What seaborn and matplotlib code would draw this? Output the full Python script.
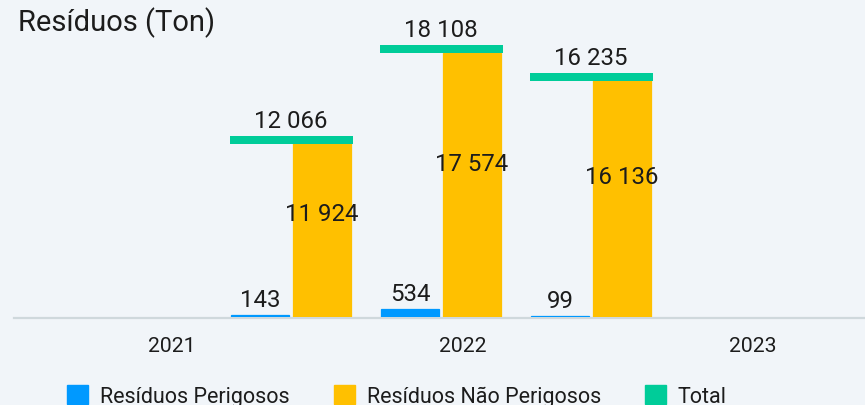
import numpy as np
import pandas as pd
import matplotlib
matplotlib.use("Agg")
import matplotlib.pyplot as plt
from matplotlib.patches import Patch
import seaborn as sns

# ---- data ----
years = ["2021", "2022", "2023"]
perigosos = [143, 534, 99]
nao_perigosos = [11924, 17574, 16136]
total = [12066, 18108, 16235]
series_names = ["Resíduos Perigosos", "Resíduos Não Perigosos"]
total_name = "Total"
title = "Resíduos (Ton)"

# ---- style ----
bg = "#F1F5F9"
c_blue = "#0099FF"
c_yellow = "#FFC000"
c_green = "#00CC99"
txt = "#1C1C1C"
palette = {series_names[0]: c_blue, series_names[1]: c_yellow}

def fmt(v):
    return f"{v:,}".replace(",", " ")

sns.set_theme(style="white")
plt.rcParams["font.family"] = ["Roboto", "DejaVu Sans"]

df = pd.DataFrame({
    "Ano": years * 2,
    "Série": [series_names[0]] * 3 + [series_names[1]] * 3,
    "Valor": perigosos + nao_perigosos,
})

W, H = 865, 406
fig = plt.figure(figsize=(W / 100, H / 100), dpi=100)
fig.patch.set_facecolor(bg)

ax = fig.add_axes([14 / W, 88 / H, 851 / W, 296 / H])
ax.set_facecolor("none")
sns.barplot(data=df, x="Ano", y="Valor", hue="Série", palette=palette,
            width=0.82, gap=0.06, saturation=1, legend=False, ax=ax, zorder=2,
            linewidth=0)
# slight outline in the bar's own colour so the tiny bars stay visible
for cont in ax.containers:
    for b in cont:
        b.set_edgecolor(b.get_facecolor())
        b.set_linewidth(0.9)

px_per_unit = 0.01502
ax.set_ylim(0, 296 / px_per_unit)
ax.set_xlim(-(291 - 14) / 150, 2 + (865 - 591) / 150)

# total markers (thick horizontal bars with top at the value)
xpos = np.arange(len(years))
thick = 8 / px_per_unit
ax.bar(xpos, [-thick] * len(total), bottom=total, width=0.82, color=c_green,
       linewidth=0, zorder=3, clip_on=False)

fs_val = 17.3
# labels
for bar, v in zip(ax.containers[0], perigosos):
    cx = bar.get_x() + bar.get_width() / 2
    ax.annotate(fmt(v), (cx, v), xytext=(0, 9), textcoords="offset pixels",
                ha="center", va="baseline", fontsize=fs_val, color=txt,
                annotation_clip=False)
for bar, v in zip(ax.containers[1], nao_perigosos):
    cx = bar.get_x() + bar.get_width() / 2
    ax.annotate(fmt(v), (cx, v * 0.58), ha="center", va="center",
                fontsize=fs_val, color=txt, annotation_clip=False, zorder=5)
for x, v in zip(xpos, total):
    ax.annotate(fmt(v), (x, v), xytext=(0, 9), textcoords="offset pixels",
                ha="center", va="baseline", fontsize=fs_val, color=txt,
                annotation_clip=False, zorder=5)

ax.set_xticks([])
ax.set_yticks([])
ax.set_xlabel("")
ax.set_ylabel("")
for s in ["top", "left", "right"]:
    ax.spines[s].set_visible(False)
ax.spines["bottom"].set_color("#CFD8DC")
ax.spines["bottom"].set_linewidth(1.6)
ax.spines["bottom"].set_zorder(1)
ax.spines["bottom"].set_position(("outward", 1))

# category tick labels
ax2 = ax.twiny()
ax2.set_facecolor("none")
ax2.xaxis.set_ticks_position("bottom")
ax2.xaxis.set_label_position("bottom")
ax2.set_xlim(-(172 - 14) / 290.5, 2 + (865 - 753) / 290.5)
ax2.set_xticks(range(len(years)))
ax2.set_xticklabels(years, fontsize=15.2, color=txt)
ax2.tick_params(axis="x", length=0, pad=14)
for s in ax2.spines.values():
    s.set_visible(False)

# title
fig.text(18 / W, 1 - 31 / H, title, fontsize=21, ha="left", va="baseline", color=txt)

# legend (cut by the bottom edge, as in the reference)
handles = [Patch(color=c_blue, label=series_names[0]),
           Patch(color=c_yellow, label=series_names[1]),
           Patch(color=c_green, label=total_name)]
fs_leg = 15.5
fig.legend(handles=handles, loc="upper left", bbox_to_anchor=(67 / W, 1 - 386 / H),
           ncol=3, frameon=False, fontsize=fs_leg, borderpad=0, borderaxespad=0,
           handlelength=0.97, handleheight=0.97, handletextpad=0.56,
           columnspacing=2.05, labelcolor=txt)

fig.savefig("out.png", dpi=100, facecolor=bg)
